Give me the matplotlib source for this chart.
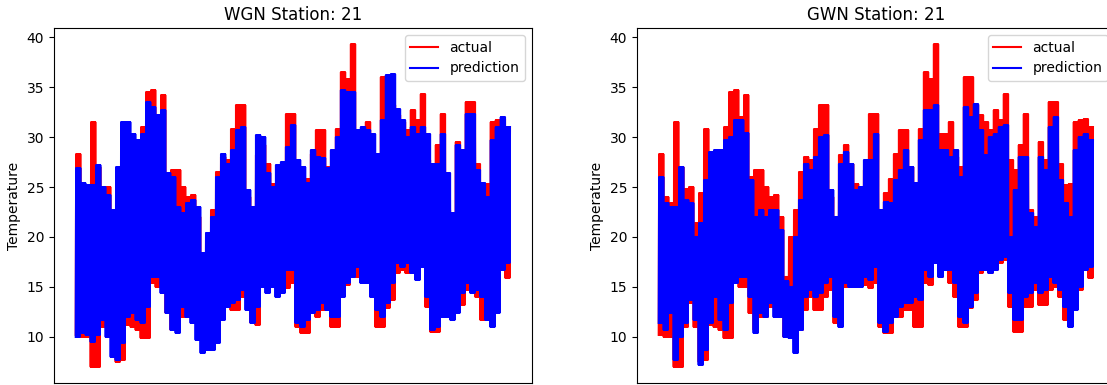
import numpy as np
import matplotlib
matplotlib.use('Agg')
import matplotlib.pyplot as plt


# ----------- DATA -----------
# daily highs / lows (87 days, same actual series in both)
station = 21

actual_hi = [28.3, 24.0, 23.4, 31.5, 27.0, 24.8, 25.0, 21.4, 24.4, 30.8,
             28.3, 27.0, 27.3, 31.0, 34.5, 34.7, 32.0, 34.2, 26.0, 26.7,
             26.7, 25.0, 24.0, 24.2, 22.0, 16.0, 20.0, 22.7, 26.5, 28.0,
             27.7, 30.8, 33.2, 33.2, 24.0, 21.4, 28.2, 29.2, 27.3, 25.3,
             24.7, 26.7, 32.3, 32.3, 22.7, 24.4, 25.8, 28.3, 30.7, 30.7,
             27.0, 25.3, 30.8, 36.5, 35.8, 39.3, 30.3, 30.3, 31.5, 28.0,
             27.0, 36.0, 36.0, 33.2, 32.2, 31.5, 30.7, 32.7, 31.7, 34.3,
             27.7, 26.7, 29.2, 32.3, 22.7, 22.0, 29.5, 27.7, 33.5, 33.5,
             27.3, 25.2, 25.3, 31.5, 31.7, 31.8, 31.0]
actual_lo = [10.2, 10.0, 10.0, 7.0, 7.0, 11.0, 13.4, 11.0, 7.5, 7.7,
             11.2, 11.0, 10.7, 9.9, 9.9, 15.4, 15.0, 15.0, 12.4, 10.7,
             12.0, 12.0, 13.0, 13.0, 12.0, 10.0, 10.0, 10.0, 10.7, 12.7,
             14.0, 12.7, 12.7, 14.0, 14.7, 11.4, 11.2, 15.0, 15.4, 15.4,
             16.0, 15.2, 14.9, 15.4, 11.0, 10.4, 10.4, 12.4, 12.0, 12.7,
             12.7, 11.0, 11.0, 15.4, 15.2, 17.4, 16.0, 17.4, 15.4, 14.0,
             11.0, 11.0, 12.9, 13.7, 16.4, 16.7, 16.4, 16.7, 17.4, 17.7,
             13.0, 10.5, 10.5, 13.0, 13.0, 14.7, 13.2, 13.2, 14.7, 15.0,
             14.0, 11.7, 11.7, 13.0, 14.7, 16.7, 15.9]

wgn_hi = [26.9, 25.4, 25.2, 25.2, 27.2, 25.0, 24.2, 22.7, 27.0, 31.5,
          31.5, 30.3, 29.7, 30.3, 33.5, 33.0, 32.2, 32.7, 26.4, 26.0,
          23.0, 22.4, 23.4, 23.7, 23.0, 18.4, 20.4, 22.0, 26.0, 28.3,
          27.3, 28.7, 30.7, 31.0, 24.7, 23.0, 30.2, 30.0, 26.4, 25.0,
          27.2, 27.5, 29.0, 31.2, 27.7, 27.0, 25.4, 28.7, 28.0, 27.9,
          26.9, 28.7, 30.0, 34.7, 34.5, 34.5, 30.7, 31.0, 30.7, 30.3,
          28.3, 31.7, 36.2, 36.3, 32.8, 31.7, 30.0, 31.0, 30.3, 31.0,
          30.3, 27.3, 27.3, 30.3, 26.4, 22.4, 29.2, 28.7, 32.3, 32.3,
          26.7, 25.4, 24.0, 29.7, 31.0, 32.0, 31.0]
wgn_lo = [10.0, 10.4, 10.2, 9.5, 10.2, 11.7, 10.0, 8.0, 7.7, 9.4,
          12.0, 12.4, 11.7, 11.4, 13.0, 16.0, 16.0, 14.4, 12.4, 10.7,
          10.4, 13.0, 12.0, 11.4, 9.7, 8.4, 8.7, 8.7, 9.4, 11.7,
          13.0, 13.4, 13.7, 14.7, 12.7, 11.4, 13.0, 15.0, 14.4, 15.0,
          14.0, 14.4, 16.7, 16.7, 11.4, 11.0, 11.7, 12.4, 12.7, 13.4,
          12.7, 12.0, 12.0, 14.0, 15.4, 16.0, 17.0, 15.4, 15.4, 14.0,
          12.7, 12.0, 13.4, 15.4, 17.4, 17.0, 17.4, 16.4, 15.7, 17.0,
          14.0, 10.7, 11.0, 12.0, 12.0, 11.7, 12.4, 14.4, 15.4, 14.4,
          14.7, 14.0, 11.7, 11.0, 12.4, 16.7, 17.4]

gwn_hi = [26.0, 23.4, 23.0, 23.0, 27.0, 23.7, 23.4, 20.0, 21.4, 25.7,
          28.5, 28.7, 28.7, 29.7, 30.0, 31.7, 31.7, 30.4, 25.7, 22.0,
          22.7, 22.0, 22.7, 22.7, 20.7, 15.6, 15.0, 20.0, 23.7, 27.3,
          26.7, 28.0, 30.0, 30.2, 24.7, 22.0, 27.3, 28.5, 27.3, 24.7,
          25.0, 27.7, 27.7, 30.3, 22.7, 23.5, 23.4, 25.7, 26.7, 28.7,
          27.0, 25.4, 29.7, 32.7, 32.7, 33.2, 28.7, 28.7, 28.0, 28.7,
          26.0, 33.0, 32.0, 33.3, 30.7, 28.2, 30.0, 30.3, 31.0, 31.2,
          20.0, 24.7, 28.0, 28.0, 22.4, 21.0, 28.0, 26.7, 31.0, 32.0,
          25.7, 23.4, 22.0, 28.7, 30.0, 30.3, 29.7]
gwn_lo = [11.4, 10.7, 12.4, 7.7, 10.0, 11.4, 13.7, 11.7, 7.2, 8.7,
          11.4, 14.0, 11.7, 10.7, 13.4, 15.4, 16.0, 16.0, 14.0, 10.4,
          12.4, 12.0, 13.4, 12.0, 12.0, 10.0, 9.9, 8.4, 10.7, 14.0,
          14.7, 14.0, 14.4, 15.4, 16.0, 12.0, 11.0, 15.4, 15.0, 15.0,
          15.0, 16.0, 15.7, 17.0, 11.4, 10.5, 11.4, 12.0, 13.0, 13.4,
          13.4, 14.0, 13.7, 16.7, 16.0, 17.4, 16.0, 16.7, 16.7, 15.4,
          12.0, 11.4, 13.0, 14.4, 16.7, 16.7, 16.4, 16.7, 17.7, 18.0,
          14.4, 11.7, 11.7, 14.0, 14.4, 15.4, 14.4, 14.7, 16.0, 15.4,
          14.7, 13.0, 11.0, 12.7, 15.0, 16.7, 17.0]

samples_per_day = 6


# ----------- UTILS -----------
# hourly-ish series: swing between the low and the high of every day
def day_series(lo, hi):
    pairs = np.column_stack([lo, hi])
    return np.repeat(pairs, samples_per_day, axis=0).ravel()


# ----------- PLOT -----------
fig = plt.figure(figsize=(11.07, 3.85), dpi=100)
ax1 = fig.add_axes([54 / 1107, 2 / 385, 477.7 / 1107, 355 / 385])
ax2 = fig.add_axes([637 / 1107, 2 / 385, 477.7 / 1107, 355 / 385])

y_true = day_series(actual_lo, actual_hi)
for ax, name, lo, hi in [(ax1, 'WGN', wgn_lo, wgn_hi), (ax2, 'GWN', gwn_lo, gwn_hi)]:
    y_pred = day_series(lo, hi)
    ax.plot(y_true, color='red', label='actual')
    ax.plot(y_pred, color='blue', label='prediction')
    ax.set_title(name + ' Station: ' + str(station))
    ax.set_ylabel('Temperature')
    ax.set_xticks([])
    ax.legend(loc='upper right')

fig.savefig('out.png', dpi=100)
